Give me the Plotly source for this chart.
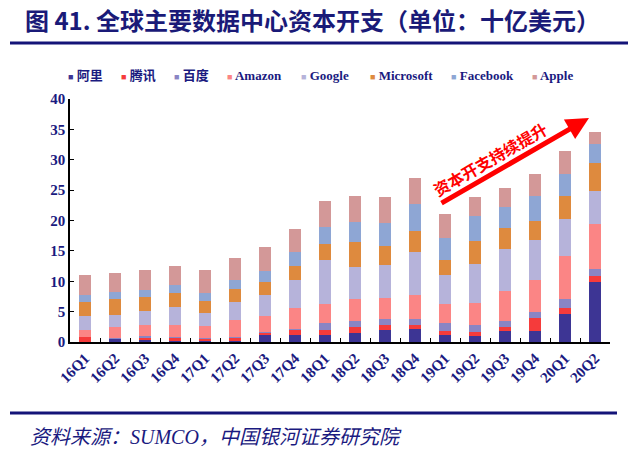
import plotly.graph_objects as go

quarters = ["16Q1", "16Q2", "16Q3", "16Q4", "17Q1", "17Q2", "17Q3", "17Q4",
            "18Q1", "18Q2", "18Q3", "18Q4", "19Q1", "19Q2", "19Q3", "19Q4",
            "20Q1", "20Q2"]

alibaba = [0.0, 0.5, 0.3, 0.1, 0.2, 0.1, 1.1, 1.2, 1.1, 1.5, 1.9, 2.15, 1.1, 0.95, 1.75, 1.75, 4.6, 9.8]
tencent = [0.8, 0.1, 0.5, 0.6, 0.4, 0.6, 0.4, 0.9, 0.9, 0.9, 0.85, 0.6, 0.75, 0.7, 0.7, 2.2, 0.95, 1.1]
baidu = [0.0, 0.1, 0.2, 0.1, 0.1, 0.1, 0.1, 0.1, 1.05, 1.0, 1.05, 1.1, 1.25, 1.1, 1.05, 1.05, 1.55, 1.15]
amazon = [1.2, 1.7, 1.85, 2.05, 1.9, 2.85, 2.6, 3.4, 3.2, 3.6, 3.45, 3.85, 3.15, 3.65, 4.95, 5.25, 7.0, 7.4]
google = [2.2, 2.1, 2.2, 2.9, 2.2, 2.95, 3.5, 4.65, 7.2, 5.35, 5.35, 7.1, 4.85, 6.45, 6.85, 6.6, 6.2, 5.35]
microsoft = [2.4, 2.6, 2.35, 2.25, 1.9, 2.05, 2.2, 2.3, 2.75, 4.05, 3.15, 3.5, 2.45, 3.7, 3.45, 3.15, 3.7, 4.7]
facebook = [1.2, 1.1, 1.15, 1.4, 1.35, 1.6, 1.75, 2.25, 2.75, 3.3, 3.85, 4.4, 3.55, 4.15, 3.45, 4.1, 3.7, 3.15]
apple = [3.3, 3.2, 3.35, 3.15, 3.85, 3.55, 3.95, 3.85, 4.25, 4.3, 4.2, 4.3, 3.9, 3.1, 3.15, 3.6, 3.7, 1.85]

names = ["阿里", "腾讯", "百度", "Amazon", "Google", "Microsoft", "Facebook", "Apple"]
series = [alibaba, tencent, baidu, amazon, google, microsoft, facebook, apple]
colors = ["#3d3594", "#f53b3b", "#8a85c4", "#fb8585", "#b6b3da", "#de8a3e", "#8ea6d4", "#d39898"]

navy = "#1a1a80"
serif = "Liberation Serif, Noto Sans CJK SC"

fig = go.Figure()
for name, vals, col in zip(names, series, colors):
    fig.add_trace(go.Bar(x=quarters, y=vals, name=name, marker_color=col,
                         marker_line_width=0, showlegend=False))

# legend drawn by hand so the spacing stays tight like the original
legend_x = [66, 119, 172, 225, 299, 368, 449, 530]
for name, col, lx in zip(names, colors, legend_x):
    fig.add_annotation(
        x=(lx - 70) / 540, y=(342 - 75) / 243, xref="paper", yref="paper",
        xanchor="left", yanchor="middle", showarrow=False,
        text="<span style='color:%s;font-size:9px'>■</span> %s" % (col, name),
        font=dict(family=serif, size=13, color=navy, weight="bold"))

# arrow + label
fig.add_annotation(
    x=(589 - 70) / 540, y=(342 - 118) / 243, xref="paper", yref="paper",
    ax=-149, ay=86, showarrow=True, arrowhead=2, arrowsize=0.9,
    arrowwidth=5, arrowcolor="#ff0000", text="")
fig.add_annotation(
    x=(490 - 70) / 540, y=(342 - 159) / 243, xref="paper", yref="paper",
    xanchor="center", yanchor="middle",
    text="资本开支持续提升", textangle=-30, showarrow=False,
    font=dict(family="Noto Sans CJK SC", size=16, color="#ff0000", weight="bold"))

# footer
fig.add_annotation(
    x=(28 - 70) / 540, y=(342 - 437) / 243, xref="paper", yref="paper",
    xanchor="left", yanchor="middle", showarrow=False,
    text="资料来源：SUMCO，中国银河证券研究院",
    font=dict(family=serif, size=20, color=navy, style="italic"))

# rules under title and above footer
fig.add_shape(type="line", xref="paper", yref="paper",
              x0=(10 - 70) / 540, x1=(628 - 70) / 540,
              y0=(342 - 43) / 243, y1=(342 - 43) / 243,
              line=dict(color="#141478", width=3))
fig.add_shape(type="line", xref="paper", yref="paper",
              x0=(10 - 70) / 540, x1=(617 - 70) / 540,
              y0=(342 - 413) / 243, y1=(342 - 413) / 243,
              line=dict(color="#141478", width=3))

fig.update_layout(
    width=640, height=455,
    margin=dict(l=70, r=30, t=99, b=113),
    barmode="stack", bargap=0.62,
    plot_bgcolor="white", paper_bgcolor="white",
    title=dict(text="<b>图 41. 全球主要数据中心资本开支（单位：十亿美元）</b>",
               x=25 / 640, xanchor="left", xref="container",
               y=1 - 22 / 455, yanchor="middle", yref="container",
               font=dict(family="Noto Sans CJK SC", size=24, color="#1a1a78")),
)
fig.update_xaxes(showline=True, linecolor="black", linewidth=1.5,
                 ticks="inside", tickson="boundaries", ticklen=4, tickcolor="black",
                 tickangle=-45, showgrid=False,
                 tickfont=dict(family=serif, size=15, color=navy, weight="bold"))
fig.update_yaxes(range=[0, 40], dtick=5, showline=True, linecolor="black", linewidth=1.5,
                 ticks="inside", ticklen=4, tickcolor="black", showgrid=False,
                 zeroline=False,
                 tickfont=dict(family=serif, size=15, color=navy, weight="bold"))

# page body has an 8px margin by default; drop it so the figure sits at 0,0
fig.write_html("out.html", config={"displayModeBar": False},
               post_script="document.body.style.margin='0';")
